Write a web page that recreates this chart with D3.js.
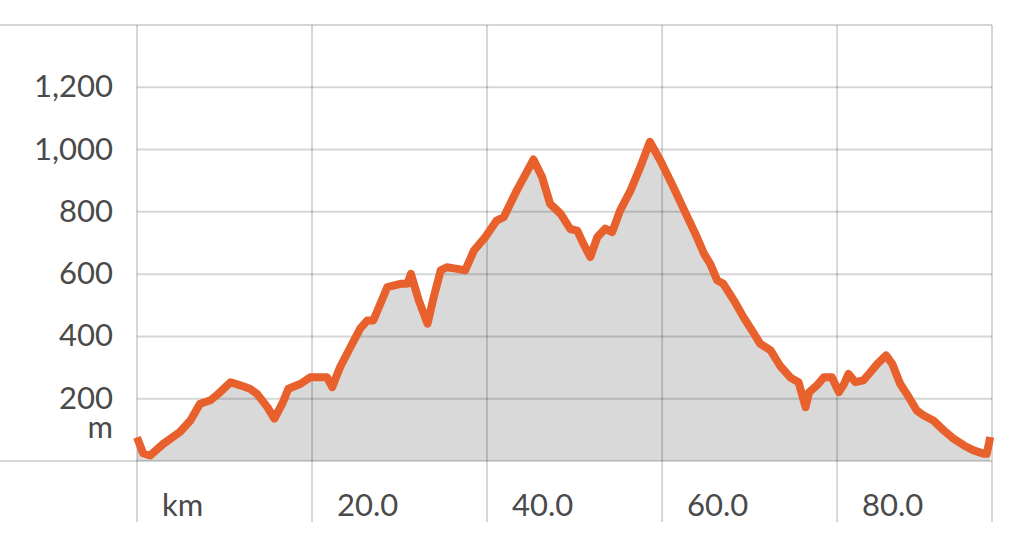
<!DOCTYPE html>
<html>
<head>
<meta charset="utf-8">
<script src="https://cdn.jsdelivr.net/npm/d3@7"></script>
<style>
  body { margin: 0; background: #fff; }
  svg { display: block; font-family: Lato, "Open Sans", sans-serif; }
</style>
</head>
<body>
<svg width="1024" height="547"></svg>
<script>
const svg = d3.select("svg");

// distance (km) and elevation (m)
const distKm = [0.0, 0.7, 1.5, 3.0, 4.9, 6.1, 7.2, 8.4, 9.3, 10.7, 11.8, 12.9, 13.7, 14.9, 15.7, 16.6, 17.3, 18.7, 19.8, 20.9,
  21.7, 22.3, 23.2, 24.4, 25.5, 26.3, 27.0, 28.6, 30.1, 30.9, 31.3, 32.2, 33.2, 33.9, 34.7, 35.4, 36.6, 37.5, 38.5, 39.8,
  41.1, 41.9, 43.4, 45.3, 46.3, 47.2, 48.4, 49.5, 50.3, 51.0, 51.8, 52.6, 53.5, 54.3, 55.2, 56.4, 57.5, 58.6, 59.8, 61.3,
  62.9, 63.8, 64.8, 65.5, 66.3, 67.0, 68.2, 69.3, 70.5, 71.2, 72.4, 73.5, 74.7, 75.6, 76.4, 76.8, 77.7, 78.5, 79.4, 80.2,
  80.8, 81.3, 82.1, 83.0, 83.8, 84.6, 85.6, 86.3, 87.2, 88.2, 89.1, 89.9, 91.0, 92.2, 93.3, 94.5, 95.6, 96.8, 97.1, 97.5];
const elevM = [76, 25, 18, 55, 93, 130, 184, 195, 216, 253, 243, 232, 216, 173, 136, 184, 232, 248, 269, 269,
  269, 237, 301, 366, 425, 451, 451, 558, 569, 569, 601, 516, 441, 526, 612, 622, 617, 612, 676, 719,
  772, 783, 869, 968, 911, 826, 794, 745, 740, 698, 655, 719, 746, 735, 804, 869, 943, 1025, 965, 879,
  783, 730, 665, 633, 580, 569, 516, 462, 409, 377, 355, 305, 267, 253, 173, 221, 243, 269, 269, 221,
  248, 280, 253, 259, 285, 312, 339, 312, 248, 205, 162, 146, 130, 98, 72, 50, 34, 23, 23, 77];

const yTicks = [200, 400, 600, 800, 1000, 1200];
const xTicks = [0, 20, 40, 60, 80];
const xTickLabels = ["km", "20.0", "40.0", "60.0", "80.0"];
const xMax = 97.7, yMax = 1400;

const plotL = 137, plotR = 992, plotT = 25, plotB = 461;

const x = d3.scaleLinear().domain([0, xMax]).range([plotL, plotR]);
const y = d3.scaleLinear().domain([0, yMax]).range([plotB, plotT]);

const pts = distKm.map((d, i) => [d, elevM[i]]);

// grey area under the profile
svg.append("path")
  .datum(pts)
  .attr("fill", "#d9d9d9")
  .attr("d", d3.area().x(d => x(d[0])).y0(y(0)).y1(d => y(d[1])));

// grid (drawn over the fill so it shows through darker)
const grid = svg.append("g").attr("stroke", "rgba(0,0,0,0.16)").attr("stroke-width", 2);
grid.selectAll(".h").data(yTicks).join("line")
  .attr("x1", plotL).attr("x2", plotR)
  .attr("y1", d => y(d)).attr("y2", d => y(d));
grid.append("line").attr("x1", 0).attr("x2", plotR).attr("y1", plotT).attr("y2", plotT);
grid.append("line").attr("x1", 0).attr("x2", plotR).attr("y1", plotB).attr("y2", plotB);
grid.selectAll(".v").data(xTicks.concat([xMax])).join("line")
  .attr("x1", d => x(d)).attr("x2", d => x(d))
  .attr("y1", plotT).attr("y2", 522);

// elevation line
svg.append("path")
  .datum(pts)
  .attr("fill", "none")
  .attr("stroke", "#e8602c")
  .attr("stroke-width", 8)
  .attr("stroke-linejoin", "round")
  .attr("d", d3.line().x(d => x(d[0])).y(d => y(d[1])));

// y labels
svg.selectAll(".yl").data(yTicks).join("text")
  .attr("x", 113).attr("y", d => y(d) + 10)
  .attr("text-anchor", "end")
  .attr("font-size", 31).attr("fill", "#4a4a4a")
  .text(d => d3.format(",")(d));
svg.append("text")
  .attr("x", 113).attr("y", 438)
  .attr("text-anchor", "end")
  .attr("font-size", 31).attr("fill", "#4a4a4a")
  .text("m");

// x labels
svg.selectAll(".xl").data(xTicks).join("text")
  .attr("x", d => x(d) + 25).attr("y", 516)
  .attr("font-size", 31).attr("fill", "#4a4a4a")
  .text((d, i) => xTickLabels[i]);
</script>
</body>
</html>
